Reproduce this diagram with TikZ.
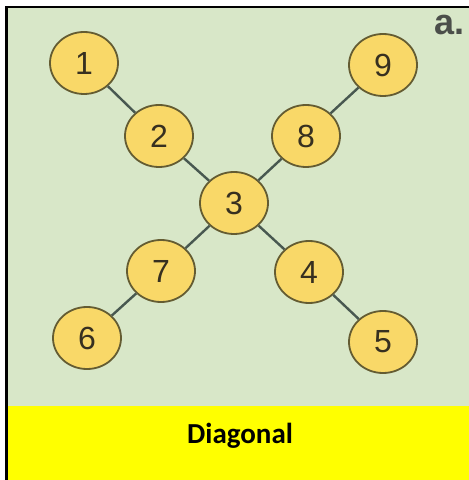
\documentclass[tikz,border=0pt]{standalone}
\usepackage{fontspec}
\setmainfont{Liberation Sans}
\newfontfamily\calib{Carlito}
\usetikzlibrary{shapes.geometric}
\definecolor{bggreen}{RGB}{216,231,200}
\definecolor{ballfill}{RGB}{249,216,104}
\definecolor{balledge}{RGB}{100,92,50}
\definecolor{linkcol}{RGB}{72,88,80}
\definecolor{digitcol}{RGB}{55,48,32}
\definecolor{labelgray}{RGB}{75,78,74}
\definecolor{pureyellow}{RGB}{255,255,0}
\tikzset{
  ball/.style={ellipse, draw=balledge, line width=1.8pt, fill=ballfill,
    minimum width=68pt, minimum height=62pt, inner sep=0pt,
    text=digitcol, font=\fontsize{32}{32}\selectfont},
  link/.style={draw=linkcol, line width=2.4pt},
}
\begin{document}
\begin{tikzpicture}[x=1pt,y=1pt]
\useasboundingbox (0,0) rectangle (469,480);
\fill[white] (0,0) rectangle (469,480);
\fill[bggreen] (8,74) rectangle (469,472);
\fill[pureyellow] (8,0) rectangle (469,74);
\draw[black, line width=2.6pt] (6.5,0) -- (6.5,473) -- (469,473);
\node[anchor=base west, inner sep=0pt, text=labelgray, font=\bfseries\fontsize{36}{36}\selectfont] (lbl) at (434,445) {a.};
\node[ball] (n1) at (84,417) {1};
\node[ball] (n2) at (159,344) {2};
\node[ball] (n3) at (234,277) {3};
\node[ball] (n8) at (306,344) {8};
\node[ball] (n9) at (383,415) {9};
\node[ball] (n7) at (161,209) {7};
\node[ball] (n4) at (309,208) {4};
\node[ball] (n6) at (87,142) {6};
\node[ball] (n5) at (383,138) {5};
\draw[link] (n1) -- (n2);
\draw[link] (n2) -- (n3);
\draw[link] (n3) -- (n8);
\draw[link] (n8) -- (n9);
\draw[link] (n3) -- (n7);
\draw[link] (n7) -- (n6);
\draw[link] (n3) -- (n4);
\draw[link] (n4) -- (n5);
\node[font=\calib\bfseries\fontsize{29}{29}\selectfont, anchor=base] (title) at (240,37) {Diagonal};
\end{tikzpicture}
\end{document}
